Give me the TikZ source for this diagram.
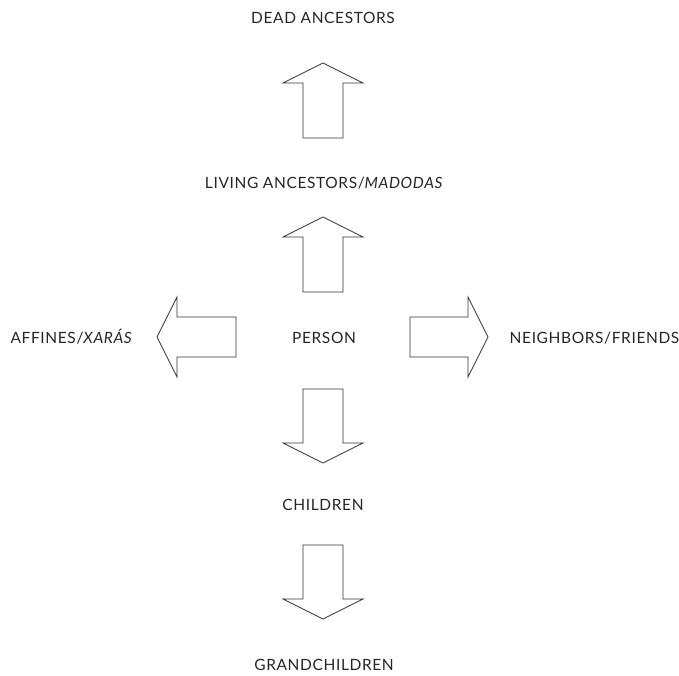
\documentclass[tikz,border=0pt]{standalone}
\usepackage{fontspec}
\setmainfont{Lato}[LetterSpace=4]
\usepackage{tikz}

\begin{document}
\begin{tikzpicture}[x=1pt,y=-1pt,
  kin/.style={font=\fontsize{15.5}{18}\selectfont, text=black!85, inner sep=0pt, anchor=base},
  pics/blockarrow/.style={code={
    \draw[line width=.8pt, draw=black!80, line join=miter]
      (-20,0) -- (-20,-#1+20) -- (-40,-#1+20) -- (0,-#1) -- (40,-#1+20) -- (20,-#1+20) -- (20,0) -- cycle;}}]

\useasboundingbox (0,0) rectangle (679,676);

% definitions
\coordinate (up1) at (323,138);
\coordinate (up2) at (323,292);
\coordinate (down1) at (323,389);
\coordinate (down2) at (323,545);
\coordinate (left) at (236,337);
\coordinate (right) at (410,337);

% drawing
\pic at (up1) {blockarrow=75};
\pic at (up2) {blockarrow=75};
\pic[rotate=180] at (down1) {blockarrow=74};
\pic[rotate=180] at (down2) {blockarrow=74};
\pic[rotate=90] at (left) {blockarrow=79};
\pic[rotate=-90] at (right) {blockarrow=78};

% labels
\node[kin] (dead) at (323,24) {DEAD ANCESTORS};
\node[kin] (living) at (324,189) {LIVING ANCESTORS/\textit{MADODAS}};
\node[kin] (person) at (324,343) {PERSON};
\node[kin] (affines) at (71.5,343) {AFFINES/\textit{XARÁS}};
\node[kin] (neighbors) at (594.5,343) {NEIGHBORS/FRIENDS};
\node[kin] (children) at (323,510.5) {CHILDREN};
\node[kin] (grand) at (324,670.5) {GRANDCHILDREN};
\end{tikzpicture}
\end{document}
